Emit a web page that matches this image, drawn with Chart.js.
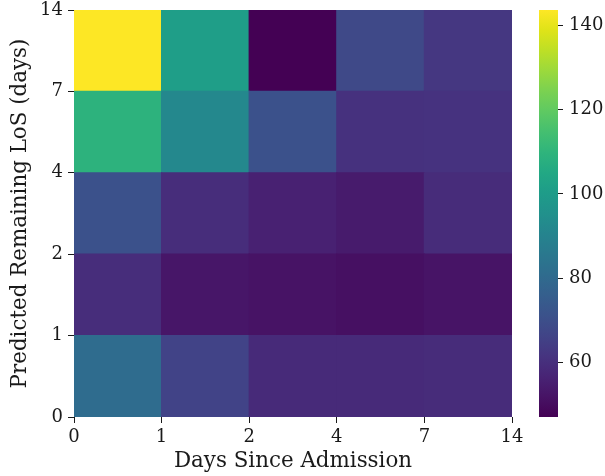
<!DOCTYPE html>
<html>
<head>
<meta charset="utf-8">
<script src="https://cdn.jsdelivr.net/npm/chart.js@4.4.1/dist/chart.umd.min.js"></script>
<style>
  html, body { margin: 0; padding: 0; background: #fff; }
  #wrap { position: relative; width: 605px; height: 476px; }
  #mainBox { position: absolute; left: 0; top: 0; width: 530px; height: 476px; }
  #barBox { position: absolute; left: 520px; top: 0; width: 85px; height: 476px; }
</style>
</head>
<body>
<div id="wrap">
  <div id="mainBox"><canvas id="heatmap"></canvas></div>
  <div id="barBox"><canvas id="colorbar"></canvas></div>
</div>
<script>
// bin edges (days)
const xEdges = ['0', '1', '2', '4', '7', '14'];
const yEdges = ['0', '1', '2', '4', '7', '14'];

// one array per predicted-LoS row, columns follow xEdges bins
const row0to1  = [81, 66, 58.5, 58.5, 59];
const row1to2  = [59.5, 52.8, 51.8, 51, 52];
const row2to4  = [71, 59.5, 55.7, 54, 59];
const row4to7  = [109, 92, 71, 60.5, 61];
const row7to14 = [143.7, 101, 47, 68, 62.5];

const rows = [row0to1, row1to2, row2to4, row4to7, row7to14];
const colorTicks = [60, 80, 100, 120, 140];

const allVals = rows.flat();
const vmin = Math.min(...allVals);
const vmax = Math.max(...allVals);

// viridis colour stops
const viridis = ['#440154', '#471365', '#482475', '#463480', '#414487', '#3b528b', '#355f8d',
  '#2f6c8e', '#2a788e', '#25848e', '#21918c', '#1e9c89', '#22a884', '#2fb47c', '#44bf70',
  '#5ec962', '#7ad151', '#9bd93c', '#bddf26', '#dfe318', '#fde725'];

function hexToRgb(h) {
  return [parseInt(h.slice(1, 3), 16), parseInt(h.slice(3, 5), 16), parseInt(h.slice(5, 7), 16)];
}

function viridisColor(v) {
  let t = (v - vmin) / (vmax - vmin);
  t = Math.max(0, Math.min(1, t));
  const pos = t * (viridis.length - 1);
  const i = Math.min(Math.floor(pos), viridis.length - 2);
  const f = pos - i;
  const a = hexToRgb(viridis[i]), b = hexToRgb(viridis[i + 1]);
  const c = a.map((ch, k) => Math.round(ch + (b[k] - ch) * f));
  return `rgb(${c[0]},${c[1]},${c[2]})`;
}

const tickFont = { family: 'DejaVu Serif', size: 18 };
const titleFont = { family: 'DejaVu Serif', size: 21.4 };
const ink = '#1a1a1a';

const datasets = rows.map((row, r) => ({
  label: yEdges[r] + '-' + yEdges[r + 1],
  data: row.map((v, c) => ({ x: c + 0.5, y: 1 })),
  backgroundColor: row.map(v => viridisColor(v)),
  borderWidth: 0,
  inflateAmount: 0.6,
  barPercentage: 1,
  categoryPercentage: 1
}));

new Chart(document.getElementById('heatmap'), {
  type: 'bar',
  data: { datasets: datasets },
  options: {
    responsive: true,
    maintainAspectRatio: false,
    animation: false,
    layout: { padding: { left: 0, right: 18, top: 10, bottom: 0 } },
    plugins: { legend: { display: false }, tooltip: { enabled: false } },
    scales: {
      x: {
        type: 'linear',
        stacked: true,
        offset: false,
        min: 0,
        max: 5,
        border: { display: false },
        grid: { display: true, offset: false, drawOnChartArea: false, drawTicks: true, tickLength: 6, color: ink, lineWidth: 1 },
        ticks: {
          stepSize: 1,
          color: ink,
          font: tickFont,
          padding: 4,
          maxRotation: 0,
          callback: v => xEdges[v]
        },
        title: { display: true, text: 'Days Since Admission', color: ink, font: titleFont, padding: { top: 0, bottom: 2 } },
        afterFit: s => { s.height = 59; }
      },
      y: {
        type: 'linear',
        stacked: true,
        min: 0,
        max: 5,
        border: { display: false },
        grid: { display: true, offset: false, drawOnChartArea: false, drawTicks: true, tickLength: 6, color: ink, lineWidth: 1 },
        ticks: {
          stepSize: 1,
          color: ink,
          font: tickFont,
          padding: 5,
          callback: v => yEdges[v]
        },
        title: { display: true, text: 'Predicted Remaining LoS (days)', color: ink, font: titleFont, padding: { top: 8, bottom: 0 } },
        afterFit: s => { s.width = 74; s.paddingTop = 0; s.paddingBottom = 0; }
      }
    }
  }
});

new Chart(document.getElementById('colorbar'), {
  type: 'bar',
  data: {
    labels: ['scale'],
    datasets: [{
      data: [[vmin, vmax]],
      borderWidth: 0,
      barPercentage: 1,
      categoryPercentage: 1,
      backgroundColor: ctx => {
        const area = ctx.chart.chartArea;
        if (!area) return viridis[0];
        const g = ctx.chart.ctx.createLinearGradient(0, area.bottom, 0, area.top);
        viridis.forEach((c, i) => g.addColorStop(i / (viridis.length - 1), c));
        return g;
      }
    }]
  },
  options: {
    responsive: true,
    maintainAspectRatio: false,
    animation: false,
    layout: { padding: { left: 19, right: 0, top: 10, bottom: 59 } },
    plugins: { legend: { display: false }, tooltip: { enabled: false } },
    scales: {
      x: { display: false },
      y: {
        position: 'right',
        min: vmin,
        max: vmax,
        border: { display: false },
        grid: { display: true, drawOnChartArea: false, drawTicks: true, tickLength: 5, color: ink, lineWidth: 1 },
        ticks: { color: ink, font: tickFont, padding: 6 },
        afterBuildTicks: s => { s.ticks = colorTicks.map(v => ({ value: v })); },
        afterFit: s => { s.width = 47; s.paddingTop = 0; s.paddingBottom = 0; }
      }
    }
  }
});
</script>
</body>
</html>
